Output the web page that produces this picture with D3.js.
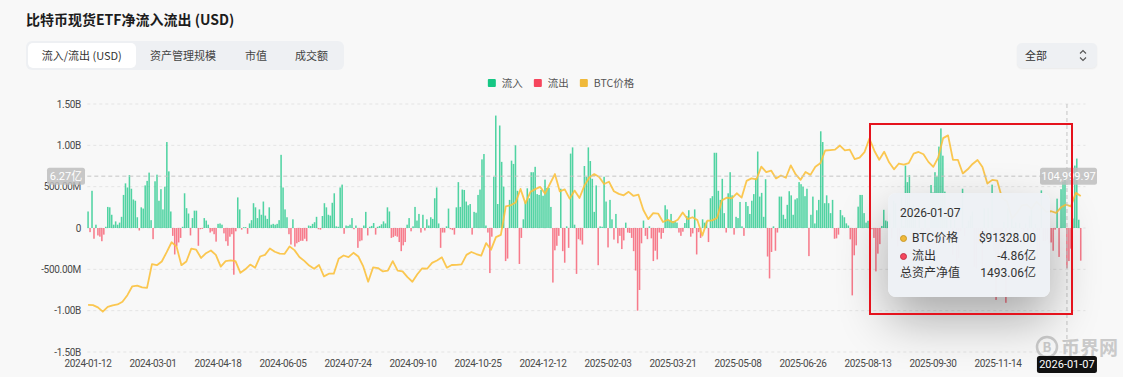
<!DOCTYPE html>
<html lang="zh-CN">
<head>
<meta charset="UTF-8">
<title>比特币现货ETF净流入流出 (USD)</title>
<script src="https://cdn.jsdelivr.net/npm/d3@7"></script>
<style>
  body {
    margin: 0;
    width: 1123px;
    height: 377px;
    background: #f8f8f8;
    font-family: "Noto Sans CJK SC", "Noto Sans", sans-serif;
    position: relative;
    overflow: hidden;
  }
  .title {
    position: absolute; left: 26px; top: 9px;
    font-size: 14px; font-weight: 700; color: #1c1c1c;
  }
  .tabs {
    position: absolute; left: 26px; top: 41px; width: 318px; height: 29px;
    background: #eef0f3; border-radius: 6px;
  }
  .tab {
    position: absolute; top: 2px; height: 25px; line-height: 25px;
    font-size: 11px; color: #444;
  }
  .tab.active {
    left: 1.5px; width: 108.5px; text-align: center;
    background: #fff; border-radius: 5px; color: #333;
  }
  .select {
    position: absolute; left: 1017px; top: 43px; width: 80px; height: 25px;
    background: #eef0f3; border-radius: 5px; box-shadow: 0 1px 2px rgba(0,0,0,0.06);
    font-size: 11px; line-height: 25px; color: #333;
  }
  .select span { position: absolute; left: 8px; }
  .select svg { position: absolute; left: 62px; top: 6px; }
  #chart { position: absolute; left: 0; top: 0; }
  .tip {
    position: absolute; left: 888px; top: 193px; width: 162px; height: 104px;
    box-sizing: border-box; padding: 10px 14px 0 12px;
    background: rgba(238, 241, 245, 0.98); border-radius: 8px;
    box-shadow: 0 22px 50px rgba(0,0,0,0.32);
    font-family: Roboto, "Noto Sans CJK SC", sans-serif; font-size: 12px; color: #333;
  }
  .tip-date { height: 20px; line-height: 20px; margin-bottom: 7px; }
  .tip-row { height: 17.5px; line-height: 17.5px; display: flex; align-items: center; }
  .tip-row .dot {
    width: 7px; height: 7px; border-radius: 50%; margin-right: 5px; box-sizing: border-box;
  }
  .tip-row .val { margin-left: auto; }
  .mark {
    position: absolute; left: 868.5px; top: 122.5px; width: 204px; height: 192px;
    box-sizing: border-box; border: 2.5px solid #e5131d;
  }
</style>
</head>
<body>
<div class="title">比特币现货ETF净流入流出 (USD)</div>
<div class="tabs">
  <div class="tab active">流入/流出 (USD)</div>
  <div class="tab" style="left:124px">资产管理规模</div>
  <div class="tab" style="left:219px">市值</div>
  <div class="tab" style="left:269px">成交额</div>
</div>
<div class="select"><span>全部</span>
  <svg width="8" height="13" viewBox="0 0 8 13"><path d="M1 4.5 L4 1.5 L7 4.5 M1 8.5 L4 11.5 L7 8.5" fill="none" stroke="#555" stroke-width="1.1"/></svg>
</div>
<svg id="chart" width="1123" height="377"></svg>
<div class="tip" id="tip"></div>
<div class="mark"></div>

<script>
  // daily net flow, millions USD
  const flows2024 = [
    200, -50, 450, -130, 40, -90, -105, -160, -80, 15, 255, 250, 160, 40, 80, 40, 65, 135, 400, 540,
    490, 640, 475, 345, 330, 130, -30, 250, 235, 515, 570, 670, 95, -135, 565, 645, 330, 470, 225, 500,
    1040, 685, 200, -95, -320, -220, -175, -120, 15, 420, 240, 175, -90, 120, 210, 210, -215, -15, -10, 120,
    90, 40, -55, -40, -75, -165, 50, 55, 40, -65, -160, -215, -105, -75, -565, -40, 370, 225, -20, 10,
    10, -70, 55, 95, 300, 250, 120, 225, 160, 320, 150, 110, 250, 40, 50, 40, 50, 95, 885, 490,
    225, 130, -75, -200, 105, -225, -185, -170, -155, -155, -130, -160, 30, 25, 50, 70, 135, -15, -20, 145,
    300, 250, 160, 150, 305,
    420, 20, 15, 490, 525, -70, 30, 25, 40, 120, -15, 30, -240, -160, -150, 30, 195, -90, 15, 25,
    60, -80, 15, 25, 45, 80, 55, 250, 200, -120, -110, -95, -105, -170, -280, -210, -170, 40, 120, -40,
    20, 255, 90, 170, -55, 160, -30, 105, 30, 130, 110, 360, 490, 55, -240, -55, -55, 20, 235, -15,
    -25, -80, 250, 555, 255, 465, 460, 320, 275, 290, -80, 195, 185, 400, 465, 830, 895, 30, -55, -545,
    -105, 620, 1360, 290, 1240, 800, 500, -400, -370, 340, 815, 775, 1000, 450, -435, -120, 105, 315, 480, 360,
    675, 675, 740, 410, 400, 460, 390, 585, 485, 485, 255, -660, -270, -215, -95, 475, -280, -420, 20
  ];
  const flows2025 = [
    -240, 900, 975, 40, -555, -135, -150, -200, 750,
    620, 975, 810, 595, 195, 515, -450, 20, 15, 620, 320, -235, 340, 105, -140, 170, -185, -95, -255, -150,
    65, -55, -60, -120, -280, -515, -1000, -750, -185, 90, -95, -135, 20, -125, -400, -275, -380, -55, -130, -60,
    275, 225, 95, 170, 85, 80, 65, -55, -95, -45, 60, 145, 215, -105, -65, 225, -320, -50, -120, 105,
    65, 80, -170, 360, 385, 910, 910, 450, 340, 595, 180, -55, 420, 675, 395, -80, 135, 120, 315, 20,
    -95, 315, 265, 170, 330, 410, 600, 925, 380, 425, 135, 590, -345, -610, -290, 20, -275, -55, 380, 380,
    160, 110, 280, 445, 395, 160, 345, 360, 555, 530, 500, 385, 475, -340, 160, 380, 55, 215, 340, 1170,
    1040, 300, 395, 300, 180, 340, -130,
    -125, -80, 218, 153, 130, 56, 30, -137, -815, -330, -210, 258,
    400, 400, 180, 65, 87, 230, -15, -120, -525, -310, -195, 25, 220, 90, 80, 180, -125,
    330, 300, -225, -160, 370, 25, 755, 555, 640, 260, 290, 165, 5, 225, -365, -105, 240, -260, -420, 520, 430,
    675, 625, 985, 1205, 875, 440, 200, -5, 100, -325, 100, -530, -365, -40, 475, -100, 20, 90, 150, 200, -470, -490, -190,
    -185, -580, 240, -135, 240, 1, 525, -280, -870, -490, -255, -370, 75, -905, 240, -150, 130, 20, 70,
    -5, 60, -15, -195, 55, -60, 150, 225, -80, 50, -355, -275, 455, -160, -160, -140, -190, -175, -275, -20, 355, -350
  ];
  const flows2026 = [470, 560, 600, -486, -400, -250, 115, 755, 840, 100, -395];

  // BTC price, about two values per week
  const btc2024 = [
    42800, 42700, 41600, 39500, 41800, 42600, 43000, 44300, 47500, 51800, 52100, 51300, 51000, 62500, 62000,
    63800, 68300, 73100, 71000, 62000, 63800, 70000, 69500, 65500, 67800, 69100, 67000, 61300, 64000, 64300,
    64000, 58300, 60000, 62300, 60800, 66200, 67000, 70100, 68500, 67600, 67500, 71100, 69300, 66000, 64100,
    61800, 60300, 62100, 56600, 57900, 57900, 65100, 66700, 65900, 68000, 66200, 61400, 54000, 60900, 60600,
    59000, 59400, 64000, 59400, 59000, 56200, 54000, 57600, 60500, 60300, 63100, 64300, 65800, 60800, 62100,
    62200, 62400, 67000, 68400, 67400, 66600, 72700, 69500, 75600, 76700, 90500, 91000, 92300, 98900, 91900,
    97400, 98800, 99900, 96600, 101400, 106100, 97700, 98700, 94200
  ];
  const btc2025 = [
    98100, 94500, 100500, 104400, 106100, 104700, 101300, 102400, 97800, 96500, 95800, 97500, 95500, 96100,
    88700, 84300, 87200, 87000, 82900, 84000, 82700, 84000, 87500, 84300, 85200, 83800, 76300, 83500, 83700,
    84900, 93400, 94700, 94300, 96800, 94700, 102800, 104000, 103500, 109700, 107000, 107800, 104000, 105400,
    104300, 110300, 105900, 103300, 107100, 105700, 109600, 111300, 117500, 117700, 117900, 119900, 117600,
    117900, 113300, 114100, 116700, 123300, 117400, 113000, 116900, 111800, 108400, 111200, 110700, 111400,
    116000, 116800, 115700, 112000, 109600, 114100, 123500, 124800, 113000, 113000, 106400, 108400, 111000,
    112900, 109500, 101500, 103300, 102900, 94400, 92900, 84600, 87300, 90900, 91300, 89300, 92700, 90300,
    87800, 88100, 87300
  ];
  const btc2026 = [90000, 91300, 90500, 97000, 95500];

  const yTicks = [1500, 1000, 500, 0, -500, -1000, -1500];
  const yTickLabels = ["1.50B", "1.00B", "500.00M", "0", "-500.00M", "-1.00B", "-1.50B"];
  const tickLabels = ["2024-01-12", "2024-03-01", "2024-04-18", "2024-06-05", "2024-07-24", "2024-09-10",
    "2024-10-25", "2024-12-12", "2025-02-03", "2025-03-21", "2025-05-08", "2025-06-26", "2025-08-13",
    "2025-09-30", "2025-11-14"];
  const tickEvery = 33;

  const legendItems = [
    { name: "流入", color: "#16c784" },
    { name: "流出", color: "#f6465d" },
    { name: "BTC价格", color: "#f0b93a" }
  ];

  // hovered day shown in the tooltip
  const hoverDate = "2026-01-07";
  const hoverPrice = 91328;
  const hoverNav = 1493.06; // 亿
  const pointerFlow = 627;   // horizontal pointer, millions
  const pointerPrice = 104999.97;

  const flows = flows2024.concat(flows2025, flows2026);
  const prices = btc2024.concat(btc2025, btc2026);
  const N = flows.length;
  const hoverIndex = flows2024.length + flows2025.length + 3;

  const plotL = 87.3, plotR = 1081.5, plotT = 104, plotB = 352;
  const svg = d3.select("#chart");

  const x = d3.scaleBand().domain(d3.range(N)).range([plotL, plotR]).paddingInner(0.22);
  const xc = d3.scaleLinear().domain([0, N - 1])
    .range([x(0) + x.bandwidth() / 2, x(N - 1) + x.bandwidth() / 2]);
  const y = d3.scaleLinear().domain([-1500, 1500]).range([plotB, plotT]);
  const yp = d3.scaleLinear().domain([20000, 140000]).range([plotB, plotT]);

  // grid
  svg.append("g")
    .selectAll("line").data(yTicks).join("line")
      .attr("x1", plotL).attr("x2", plotR + 4)
      .attr("y1", d => y(d)).attr("y2", d => y(d))
      .attr("stroke", "#e4e4e4").attr("stroke-dasharray", "3,3");

  // y axis
  svg.append("g")
    .attr("transform", "translate(81,0)")
    .call(d3.axisLeft(y).tickValues(yTicks).tickFormat((d, i) => yTickLabels[i]).tickSize(0).tickPadding(0))
    .call(g => g.select(".domain").remove())
    .selectAll("text")
      .attr("fill", "#4a4a4a").style("font-family", "Roboto, sans-serif")
      .style("font-size", "10px").style("letter-spacing", "-0.3px");

  // x axis
  const xTickIdx = tickLabels.map((t, i) => i * tickEvery);
  svg.append("g")
    .attr("transform", `translate(0,${plotB})`)
    .call(d3.axisBottom(x).tickValues(xTickIdx).tickFormat((d, i) => tickLabels[i]).tickSize(0).tickPadding(8))
    .call(g => g.select(".domain").remove())
    .selectAll("text")
      .attr("fill", "#4a4a4a").style("font-family", "Roboto, sans-serif")
      .style("font-size", "10px").style("letter-spacing", "-0.35px");

  // bars
  svg.append("g")
    .selectAll("rect").data(flows).join("rect")
      .attr("x", (d, i) => x(i))
      .attr("width", x.bandwidth())
      .attr("y", d => Math.min(y(d), y(0)))
      .attr("height", d => Math.abs(y(d) - y(0)))
      .attr("fill", d => d >= 0 ? "#16c784" : "#f6465d")
      .attr("fill-opacity", d => d >= 0 ? 0.74 : 0.7);

  // price line
  const step = (N - 1) / (prices.length - 1);
  svg.append("path")
    .datum(prices)
    .attr("fill", "none")
    .attr("stroke", "#fbc13d")
    .attr("stroke-opacity", 0.9)
    .attr("stroke-width", 1.8)
    .attr("stroke-linejoin", "round")
    .attr("d", d3.line().x((d, i) => xc(i * step)).y(d => yp(d)));

  // legend
  const lg = svg.append("g");
  let lx = 0;
  legendItems.forEach(it => {
    const g = lg.append("g");
    g.append("rect").attr("width", 8).attr("height", 8).attr("rx", 1).attr("fill", it.color);
    const t = g.append("text").attr("x", 14).attr("y", 7.5).text(it.name)
      .attr("fill", "#555").style("font-size", "10.5px");
    const w = 14 + t.node().getComputedTextLength();
    g.attr("transform", `translate(${lx},0)`);
    lx += w + 11;
  });
  const legendW = lx - 11;
  lg.attr("transform", `translate(${561 - legendW / 2},79)`);

  // axis pointer lines
  const hx = xc(hoverIndex);
  svg.append("line")
    .attr("x1", hx).attr("x2", hx).attr("y1", plotT).attr("y2", plotB)
    .attr("stroke", "#c4c4c4").attr("stroke-dasharray", "4,3");
  svg.append("line")
    .attr("x1", plotL).attr("x2", plotR + 4).attr("y1", y(pointerFlow)).attr("y2", y(pointerFlow))
    .attr("stroke", "#c4c4c4").attr("stroke-dasharray", "4,3");

  function tag(cx, cy, w, txt, bg, fs) {
    const g = svg.append("g");
    g.append("rect").attr("x", cx - w / 2).attr("y", cy - 8.5).attr("width", w).attr("height", 17)
      .attr("rx", 2.5).attr("fill", bg);
    g.append("text").attr("x", cx).attr("y", cy).attr("dy", "0.35em").attr("text-anchor", "middle")
      .attr("fill", "#fff").style("font-family", "Roboto, 'Noto Sans CJK SC', sans-serif")
      .style("font-size", fs).text(txt);
  }
  tag(66, y(pointerFlow), 38, (pointerFlow / 100).toFixed(2) + "亿", "rgba(190,190,190,0.85)", "11px");
  tag(1068.5, y(pointerFlow), 57, d3.format(",.2f")(pointerPrice), "rgba(190,190,190,0.85)", "11px");

  // watermark
  const wm = svg.append("g").attr("opacity", 0.85);
  wm.append("circle").attr("cx", 1047).attr("cy", 347).attr("r", 10)
    .attr("fill", "none").attr("stroke", "#c2c2c2").attr("stroke-width", 2.5);
  wm.append("text").attr("x", 1047).attr("y", 347).attr("dy", "0.36em").attr("text-anchor", "middle")
    .attr("fill", "#c2c2c2").style("font-size", "13px").style("font-weight", 700).text("B");
  wm.append("text").attr("x", 1061).attr("y", 355).attr("fill", "#c2c2c2")
    .style("font-size", "19px").style("font-weight", 700).text("币界网");

  tag(hx, 364.5, 60, hoverDate, "#111", "11px");

  // tooltip
  const tip = d3.select("#tip");
  tip.append("div").attr("class", "tip-date").text(hoverDate);
  const rows = [
    { dot: "#f0b93a", edge: "#c99a2a", name: "BTC价格", val: "$" + hoverPrice.toFixed(2) },
    { dot: "#f6465d", edge: "#c0344a", name: "流出", val: (flows[hoverIndex] / 100).toFixed(2) + "亿" },
    { dot: null, name: "总资产净值", val: hoverNav.toFixed(2) + "亿" }
  ];
  rows.forEach(r => {
    const row = tip.append("div").attr("class", "tip-row");
    if (r.dot) row.append("span").attr("class", "dot")
      .style("background", r.dot).style("border", `1px solid ${r.edge}`);
    row.append("span").text(r.name);
    row.append("span").attr("class", "val").text(r.val);
  });
</script>
</body>
</html>
